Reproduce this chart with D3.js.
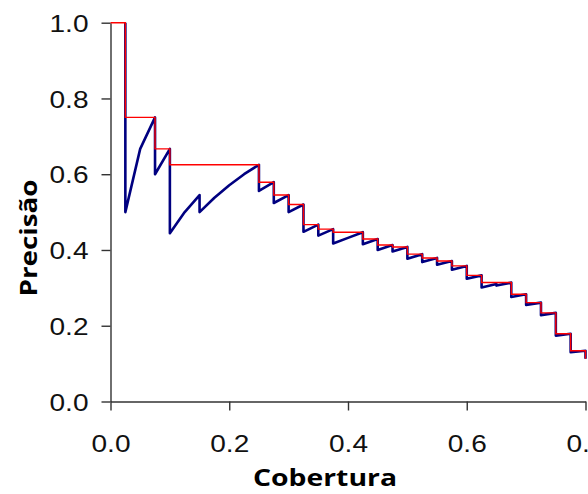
<!DOCTYPE html>
<html><head><meta charset="utf-8">
<script src="https://cdn.jsdelivr.net/npm/d3@7"></script>
<style>html,body{margin:0;padding:0;background:#fff;overflow:hidden}</style>
</head><body><svg id="chart" width="588" height="494"></svg>
<script>
// Blue curve: (recall, precision) at each vertex
const recallPoints = [0.025,0.025,0.05,0.075,0.075,0.1,0.1,0.125,0.15,0.15,0.175,0.2,0.225,0.25,0.25,0.275,0.275,0.3,0.3,0.325,0.325,0.35,0.35,0.375,0.375,0.4,0.425,0.425,0.45,0.45,0.475,0.475,0.5,0.5,0.525,0.525,0.55,0.55,0.575,0.575,0.6,0.6,0.625,0.625,0.65,0.65,0.675,0.675,0.7,0.7,0.725,0.725,0.75,0.75,0.775,0.775,0.8,0.8];
const precisionPoints = [1.0,0.5,0.667,0.75,0.6,0.667,0.444,0.5,0.545,0.5,0.538,0.571,0.6,0.625,0.556,0.579,0.524,0.545,0.5,0.52,0.448,0.467,0.438,0.455,0.417,0.432,0.447,0.415,0.429,0.4,0.413,0.396,0.408,0.377,0.389,0.368,0.379,0.361,0.371,0.348,0.358,0.324,0.333,0.301,0.31,0.306,0.314,0.276,0.283,0.255,0.261,0.228,0.234,0.174,0.179,0.13,0.134,0.113];
// Red interpolated (step) curve
const stepRecall = [0,0.025,0.05,0.075,0.1,0.125,0.15,0.175,0.2,0.225,0.25,0.275,0.3,0.325,0.35,0.375,0.4,0.425,0.45,0.475,0.5,0.525,0.55,0.575,0.6,0.625,0.65,0.675,0.7,0.725,0.75,0.775,0.8,0.8];
const stepPrecision = [1.0,1.0,0.75,0.75,0.667,0.625,0.625,0.625,0.625,0.625,0.625,0.579,0.545,0.52,0.467,0.455,0.447,0.447,0.429,0.413,0.408,0.389,0.379,0.371,0.358,0.333,0.314,0.314,0.283,0.261,0.234,0.179,0.134,0.113];
const xTicks = [0,0.2,0.4,0.6,0.8];
const yTicks = [0,0.2,0.4,0.6,0.8,1.0];
const xTitle = "Cobertura";
const yTitle = "Precisão";

const svg = d3.select("#chart");
const x = d3.scaleLinear().domain([0,0.8]).range([110.5,585.5]);
const y = d3.scaleLinear().domain([0,1]).range([401.5,22.7]);
const fmt = d3.format(".1f");

const gx = svg.append("g").attr("transform","translate(0,401.5)")
  .call(d3.axisBottom(x).tickValues(xTicks).tickFormat(fmt).tickSizeInner(9).tickSizeOuter(0).tickPadding(24));
const gy = svg.append("g").attr("transform","translate(110.5,0)")
  .call(d3.axisLeft(y).tickValues(yTicks).tickFormat(fmt).tickSizeInner(9).tickSizeOuter(0).tickPadding(13));
[gx,gy].forEach(g=>{
  g.select(".domain").attr("stroke","#333").attr("stroke-width",1.4);
  g.selectAll(".tick line").attr("stroke","#333").attr("stroke-width",1.4);
  g.selectAll(".tick text").attr("font-family","'Liberation Sans', Arial, sans-serif")
    .attr("font-size",24.5).attr("fill","#111")
    .attr("textLength",39).attr("lengthAdjust","spacingAndGlyphs");
});
gx.selectAll(".tick text").attr("dy","0.71em");
gy.selectAll(".tick text").attr("dy","0.35em");

const pts = recallPoints.map((r,i)=>[r,precisionPoints[i]]);
const steps = stepRecall.map((r,i)=>[r,stepPrecision[i]]);

svg.append("path").datum(pts)
  .attr("fill","none").attr("stroke","#000080").attr("stroke-width",2.6)
  .attr("stroke-linejoin","round")
  .attr("d", d3.line().x(d=>x(d[0])).y(d=>y(d[1])));

svg.append("path").datum(steps)
  .attr("fill","none").attr("stroke","#ff0000").attr("stroke-width",1.4)
  .attr("d", d3.line().curve(d3.curveStepBefore).x(d=>x(d[0])).y(d=>y(d[1])));

svg.append("text").attr("x",325).attr("y",486).attr("text-anchor","middle")
  .attr("font-family","'Open Sans', sans-serif").attr("font-weight","bold")
  .attr("font-size",24).attr("fill","#000")
  .attr("textLength",144).attr("lengthAdjust","spacingAndGlyphs")
  .text(xTitle);
svg.append("text").attr("transform","translate(36.5,238) rotate(-90)").attr("text-anchor","middle")
  .attr("font-family","'Open Sans', sans-serif").attr("font-weight","bold")
  .attr("font-size",24).attr("fill","#000")
  .attr("textLength",117).attr("lengthAdjust","spacingAndGlyphs")
  .text(yTitle);
</script>
</body></html>
